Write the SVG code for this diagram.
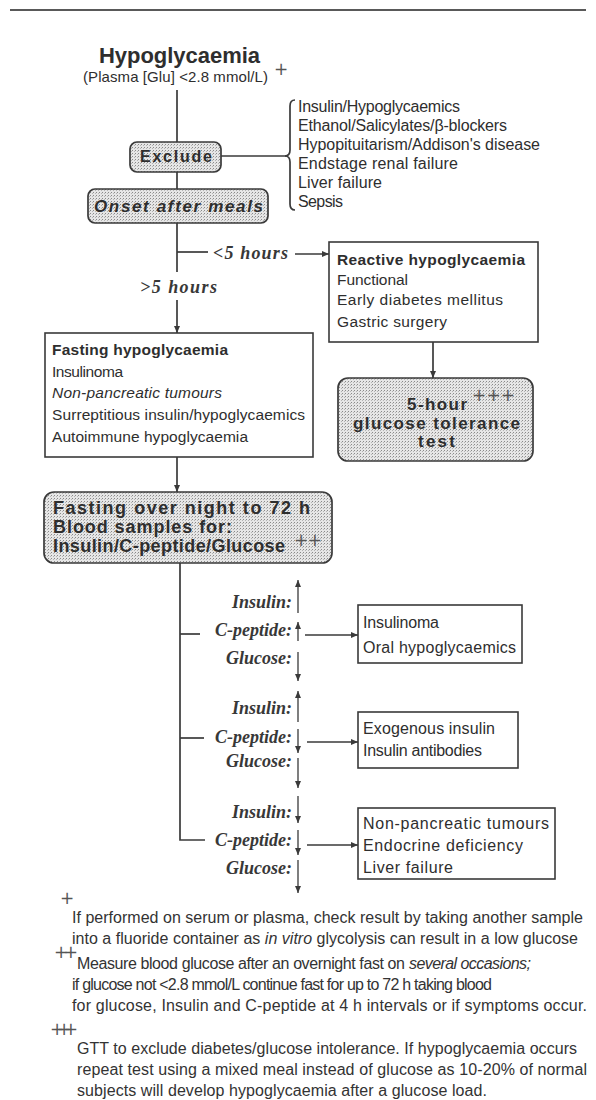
<svg xmlns="http://www.w3.org/2000/svg" width="596" height="1100" viewBox="0 0 596 1100">
  <style>
    .sans { font-family: "Liberation Sans", Arial, sans-serif; fill: #2e2e2e; }
    .b { font-weight: bold; }
    .it { font-style: italic; }
    .lab { font-family: "Liberation Serif", "Times New Roman", serif; font-style: italic; font-weight: bold; font-size: 18px; fill: #383838; }
    .ln { stroke: #3a3a3a; stroke-width: 1.7; fill: none; }
    .thin { stroke: #3a3a3a; stroke-width: 1.3; fill: none; }
    .box { stroke: #3a3a3a; stroke-width: 1.6; fill: #ffffff; }
    .rbox { stroke: #3a3a3a; stroke-width: 1.7; fill: url(#stip); }
    .mark { font-family: "DejaVu Sans", sans-serif; fill: #555; }
    .note { font-family: "Liberation Sans", Arial, sans-serif; font-size: 16px; fill: #333; }
  </style>
  <defs>
    <pattern id="stip" width="3" height="3" patternUnits="userSpaceOnUse">
      <rect width="3" height="3" fill="#e6e6e6"/>
      <rect x="0" y="0" width="1" height="1" fill="#8a8a8a"/>
      <rect x="2" y="1" width="1" height="1" fill="#b4b4b4"/>
    </pattern>
    <marker id="ah" markerWidth="8" markerHeight="8" refX="7" refY="4" orient="auto" markerUnits="userSpaceOnUse">
      <path d="M0,1 L7,4 L0,7 Z" fill="#3a3a3a"/>
    </marker>
  </defs>

  <rect width="596" height="1100" fill="#ffffff"/>
  <line x1="10" y1="10" x2="586" y2="10" stroke="#222" stroke-width="1.5"/>

  <!-- connectors -->
  <g id="connectors">
    <line class="ln" x1="177" y1="90" x2="177" y2="142"/>
    <line class="ln" x1="177" y1="172" x2="177" y2="189"/>
    <line class="ln" x1="221" y1="156" x2="286" y2="156"/>
    <path class="ln" d="M295,100 Q290,100 290,106 L290,150 Q290,156 285,156 Q290,156 290,162 L290,204 Q290,210 295,210"/>
    <line class="ln" x1="177" y1="223" x2="177" y2="272"/>
    <line class="ln" x1="177" y1="252" x2="208" y2="252"/>
    <line class="ln" x1="295" y1="254" x2="329" y2="254" marker-end="url(#ah)"/>
    <line class="ln" x1="177" y1="300" x2="177" y2="333" marker-end="url(#ah)"/>
    <line class="ln" x1="433" y1="342" x2="433" y2="378" marker-end="url(#ah)"/>
    <line class="ln" x1="177" y1="457" x2="177" y2="492" marker-end="url(#ah)"/>
    <path class="ln" d="M180,563 V840 H205"/>
    <line class="ln" x1="180" y1="634" x2="200" y2="634"/>
    <line class="ln" x1="180" y1="738" x2="204" y2="738"/>
    <line class="ln" x1="305" y1="635" x2="358" y2="635" marker-end="url(#ah)"/>
    <line class="ln" x1="307" y1="742" x2="358" y2="742" marker-end="url(#ah)"/>
    <line class="ln" x1="307" y1="845" x2="358" y2="845" marker-end="url(#ah)"/>
    <!-- level arrows -->
    <line class="thin" x1="298" y1="613" x2="298" y2="580" marker-end="url(#ah)"/>
    <line class="thin" x1="298" y1="641" x2="298" y2="622" marker-end="url(#ah)"/>
    <line class="thin" x1="298" y1="652" x2="298" y2="681" marker-end="url(#ah)"/>
    <line class="thin" x1="298" y1="722" x2="298" y2="691" marker-end="url(#ah)"/>
    <line class="thin" x1="298" y1="729" x2="298" y2="753" marker-end="url(#ah)"/>
    <line class="thin" x1="298" y1="758" x2="298" y2="788" marker-end="url(#ah)"/>
    <line class="thin" x1="298" y1="796" x2="298" y2="823" marker-end="url(#ah)"/>
    <line class="thin" x1="298" y1="830" x2="298" y2="855" marker-end="url(#ah)"/>
    <line class="thin" x1="298" y1="860" x2="298" y2="893" marker-end="url(#ah)"/>
    <text class="lab" x="213" y="259" textLength="75" lengthAdjust="spacing">&lt;5 hours</text>
    <text class="lab" x="140" y="293" textLength="77" lengthAdjust="spacing">&gt;5 hours</text>
  </g>

  <g id="title">
    <text class="sans b" x="99" y="63" font-size="22" textLength="161" lengthAdjust="spacing">Hypoglycaemia</text>
    <text class="sans" x="83" y="82" font-size="15" textLength="185" lengthAdjust="spacing">(Plasma [Glu] &lt;2.8 mmol/L)</text>
    <text class="mark" x="274" y="75" font-size="17">+</text>
  </g>

  <g id="exclude">
    <rect class="rbox" x="130" y="142" width="91" height="30" rx="7"/>
    <text class="sans b" x="140" y="162" font-size="16" textLength="72" lengthAdjust="spacing">Exclude</text>
  </g>

  <g id="exclude-list" class="sans" font-size="16">
    <text x="298" y="112" textLength="162" lengthAdjust="spacing">Insulin/Hypoglycaemics</text>
    <text x="298" y="131" textLength="209" lengthAdjust="spacing">Ethanol/Salicylates/β-blockers</text>
    <text x="298" y="150" textLength="242" lengthAdjust="spacing">Hypopituitarism/Addison's disease</text>
    <text x="298" y="169" textLength="160" lengthAdjust="spacing">Endstage renal failure</text>
    <text x="298" y="188" textLength="84" lengthAdjust="spacing">Liver failure</text>
    <text x="298" y="207" textLength="45" lengthAdjust="spacing">Sepsis</text>
  </g>

  <g id="onset">
    <rect class="rbox" x="88" y="189" width="180" height="34" rx="7"/>
    <text class="sans b it" x="94" y="212" font-size="17" textLength="169" lengthAdjust="spacing">Onset after meals</text>
  </g>

  <g id="reactive" class="sans" font-size="15.5">
    <rect class="box" x="329" y="242" width="209" height="100"/>
    <text class="b" x="337" y="265" textLength="188" lengthAdjust="spacing">Reactive hypoglycaemia</text>
    <text x="337" y="285" textLength="71" lengthAdjust="spacing">Functional</text>
    <text x="337" y="305" textLength="166" lengthAdjust="spacing">Early diabetes mellitus</text>
    <text x="337" y="327" textLength="110" lengthAdjust="spacing">Gastric surgery</text>
  </g>

  <g id="gtt">
    <rect class="rbox" x="338" y="378" width="195" height="83" rx="10"/>
    <text class="sans b" x="407" y="410" font-size="17" textLength="60" lengthAdjust="spacing">5-hour</text>
    <text class="sans b" x="353" y="429" font-size="17" textLength="167" lengthAdjust="spacing">glucose tolerance</text>
    <text class="sans b" x="418" y="447" font-size="17" textLength="37" lengthAdjust="spacing">test</text>
    <text class="mark" x="472" y="401" font-size="17" textLength="43" lengthAdjust="spacing">+++</text>
  </g>

  <g id="fasting" class="sans" font-size="15.5">
    <rect class="box" x="45" y="333" width="268" height="124"/>
    <text class="b" x="52" y="355" textLength="176" lengthAdjust="spacing">Fasting hypoglycaemia</text>
    <text x="52" y="377" textLength="71" lengthAdjust="spacing">Insulinoma</text>
    <text class="it" x="52" y="398" textLength="170" lengthAdjust="spacing">Non-pancreatic tumours</text>
    <text x="52" y="420" textLength="253" lengthAdjust="spacing">Surreptitious insulin/hypoglycaemics</text>
    <text x="52" y="442" textLength="196" lengthAdjust="spacing">Autoimmune hypoglycaemia</text>
  </g>

  <g id="overnight">
    <rect class="rbox" x="44" y="492" width="288" height="71" rx="10"/>
    <text class="sans b" x="53" y="514" font-size="18" textLength="257" lengthAdjust="spacing">Fasting over night to 72 h</text>
    <text class="sans b" x="53" y="533" font-size="18" textLength="179" lengthAdjust="spacing">Blood samples for:</text>
    <text class="sans b" x="53" y="552" font-size="18" textLength="232" lengthAdjust="spacing">Insulin/C-peptide/Glucose</text>
    <text class="mark" x="294" y="546" font-size="17" textLength="28" lengthAdjust="spacing">++</text>
  </g>

  <g id="levels" text-anchor="end">
    <text class="lab" x="292" y="608">Insulin:</text>
    <text class="lab" x="292" y="636">C-peptide:</text>
    <text class="lab" x="292" y="664">Glucose:</text>
    <text class="lab" x="292" y="714">Insulin:</text>
    <text class="lab" x="292" y="743">C-peptide:</text>
    <text class="lab" x="292" y="767">Glucose:</text>
    <text class="lab" x="292" y="818">Insulin:</text>
    <text class="lab" x="292" y="846">C-peptide:</text>
    <text class="lab" x="292" y="874">Glucose:</text>
  </g>

  <g id="result-insulinoma" class="sans" font-size="16">
    <rect class="box" x="358" y="605" width="164" height="58"/>
    <text x="363" y="628" textLength="76" lengthAdjust="spacing">Insulinoma</text>
    <text x="363" y="653" textLength="153" lengthAdjust="spacing">Oral hypoglycaemics</text>
  </g>

  <g id="result-exogenous" class="sans" font-size="16">
    <rect class="box" x="358" y="712" width="160" height="56"/>
    <text x="363" y="734" textLength="132" lengthAdjust="spacing">Exogenous insulin</text>
    <text x="363" y="756" textLength="119" lengthAdjust="spacing">Insulin antibodies</text>
  </g>

  <g id="result-nonpancreatic" class="sans" font-size="16">
    <rect class="box" x="358" y="808" width="197" height="71"/>
    <text x="363" y="829" textLength="186" lengthAdjust="spacing">Non-pancreatic tumours</text>
    <text x="363" y="851" textLength="160" lengthAdjust="spacing">Endocrine deficiency</text>
    <text x="363" y="873" textLength="90" lengthAdjust="spacing">Liver failure</text>
  </g>

  <g id="footnotes">
    <text class="mark" x="60" y="904" font-size="17">+</text>
    <text class="note" x="72" y="923" textLength="511" lengthAdjust="spacing">If performed on serum or plasma, check result by taking another sample</text>
    <text class="note" x="72" y="944" textLength="506" lengthAdjust="spacing">into  a fluoride container as <tspan font-style="italic">in vitro</tspan> glycolysis can result in a low glucose</text>
    <text class="mark" x="54" y="958" font-size="17" textLength="24" lengthAdjust="spacing">++</text>
    <text class="note" x="77" y="969" font-size="15.5" textLength="328" lengthAdjust="spacing">Measure blood glucose after an overnight fast on</text>
    <text class="note it" x="409" y="969" font-size="15.5" textLength="122" lengthAdjust="spacing">several occasions;</text>
    <text class="note" x="72" y="990" font-size="15.5" textLength="420" lengthAdjust="spacing">if glucose not &lt;2.8 mmol/L continue fast for up to 72 h taking blood</text>
    <text class="note" x="72" y="1011" textLength="515" lengthAdjust="spacing">for glucose, Insulin and C-peptide at 4 h intervals or if symptoms occur.</text>
    <text class="mark" x="50" y="1035" font-size="17" textLength="28" lengthAdjust="spacing">+++</text>
    <text class="note" x="77" y="1054" textLength="500" lengthAdjust="spacing">GTT to exclude diabetes/glucose intolerance. If hypoglycaemia occurs</text>
    <text class="note" x="77" y="1075" textLength="510" lengthAdjust="spacing">repeat test using a mixed meal instead of glucose as 10-20% of normal</text>
    <text class="note" x="77" y="1096" textLength="410" lengthAdjust="spacing">subjects will develop hypoglycaemia after a glucose load.</text>
  </g>
</svg>
